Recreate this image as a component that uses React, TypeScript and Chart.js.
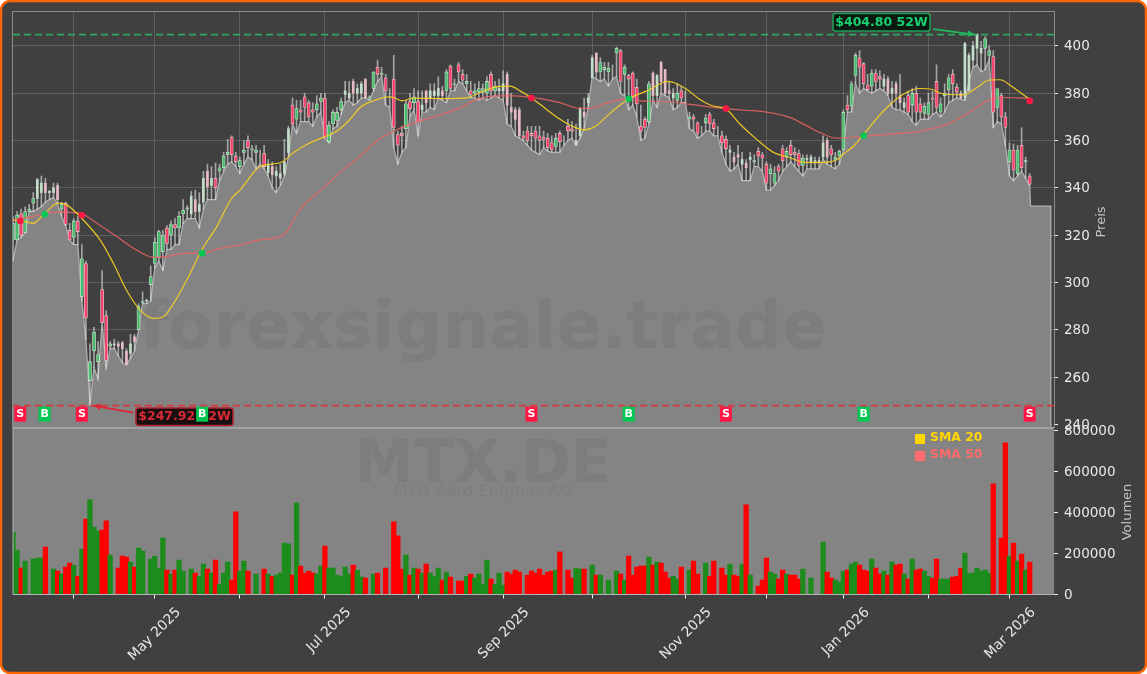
import React, { useEffect, useRef } from "react";
import { Chart, registerables } from "chart.js";

Chart.register(...registerables);

const opens = [318,318,329,321,330,333.5,335.5,338,342,338,338,341,331,333.5,322,319,326,294,308,258.5,271,266.5,297,286,273,273.5,274,274.5,271,270,277,280,291.5,292,299,308,310.5,313,323,320,324.5,323,329,331,329,335,330,334,347,341,344,347,348.5,354,361.5,353.5,349,355,360,356,355,355,354.5,346.5,349,345,344,346,355,375,369,373,378.5,376,373,373,376.5,378,359.5,367,368.5,373,379.5,378,385,380,380,386,378,382,391,388,386.5,381,386,362.5,363,365,376.5,376,376.5,373,381,378,379,379,381,381,391.5,383.5,392,388,384,381,380,380.5,380.5,380,388,381,381,381,388,374,373,373,362,364,363,364,362,361.5,361,359,357.5,363,360,366,365,358,362,372,376,386.5,397,389,390,389,390,397,398,388,387.5,388.5,382.5,366,369,368,388.5,379,393,390,381,378,377,381,378,369,370,367.5,364,367.5,371,367.5,365,362,360.5,355,353,354,350,350.5,352,351,355.5,354,350,346,342,349,356.5,353,358,355,354.5,349.5,352,351,351,351,353,360,356.5,352,353.5,356,375,374.5,387.5,395,392.5,383.5,383,388.5,387,383,386,380,384,379,374,379,375,380,375.5,371.5,371,378,385,372,379,381.5,388,382.5,380,378,381,394,399,397,399,396,395.5,374,379,370,351,356,346,358,351,345];
const closes = [325,328.5,320,330,331,335.5,343.5,342,338,338.5,340,335,333,324.5,318,326,321.5,310,285,266.5,279,269.5,283,267,274,274,273,272,265.5,274,275,290,292,292.5,302.5,317,321.5,320,316.5,324.5,323,328,330.5,331.5,336.5,330,333,344,340.5,344,340,348.5,353.5,355,354,351,351.5,356,357,356.5,356,355,349,350,345.5,347,346,351,365,367,373.5,372,374,370,372,375.5,378,361,366.5,372,372,376.5,381,380,380,382,384,378,378.5,389,388,388.5,381,381,365.5,358,362,375.5,373.5,378.5,368,375,376,381,381,382,379,389,382,384,389,385.5,385,379.5,381,382,382,385,381,383,382,384,375,372,369,362,361,360,362,361,360,360.5,357,356,361,359.5,360,364,364,360,373.5,370,378,395,389,393,391,390.5,390,399,385,391,386,378,375.5,364,365.5,384,379,387.5,385,380,380,380,380,378,378,370,369,363,364,369.5,367,365,365,359,356.5,356,351,353,352,348.5,353,351.5,353.5,352.5,342,348,346,347,351.5,355.5,354,354,349.5,352.5,352,353,351.5,351.5,359,353,354,353,355.5,372,373,384,396,391,384,381.5,388.5,385,386,386,380,382,380,376,376,372,380,372,372,374.5,376,377.5,374,375.5,380,386.5,384,380.5,378,401,396,400,405,399,403,398,372,382,370,365.5,356,347.5,356,348.5,351.5,341.5];
const highs = [328,330,331,332,333,338,344,345,344,339,342,342,334,334,325,327,328,316,309,274,281,275,305,288,275,276,275,275,272,278,278,291,296,293,307,319,322,322,324,326,327,330,335,332.5,338.5,339,338,347,350,349,350.5,350,355,360.5,362,355,353,360,362,358,358,356,358,352,351,349,350,360.5,366,378,377,377,380,377,376,379,380,380,368,373,374,378,385,385,386,384,385,386,379,389,394,391,388,382,396,364,366,377,380,382,381,381,381,384,384,387,383,390,392,386,393,390,388,385,384,385,384,387,389,385,386,389.5,389,380,374,374,364,366,366,366,366,364,363,362,363,364,362,369,368,367,374,378,380,396,397,395,393,393,392,399.5,398.5,392,388,389,386,375,370,385,389,388,393.5,390,385,382,384,383,381,372,371,368,366,371,372,369,366,364,362,358,355,358,355,352,355,354,357,355,351,350,349,350,358,357,360,357,356,354,354,354,353,353,362,361,358,355,356,373,379,385,397,398,393,388,390,390,389.5,388,387,385,385,388,378,381,382,383,378,376,380,381,392,378,384,388,390,384,381,401.5,397,402,404.8,402,404,400,398,380,380,372,359,358.5,358,365.4,353,346];
const lows = [309,318,319,321,330,330,331,332,334,335,336,333,328,324,318,316,316,292,276,247.92,264,259,283,263.5,272,272,269,266,265,268,271,280,291,291,292,306,309,305,314,314,316,316,325,327,327,327,323,331,335,335,335,343,347,350,351,349,346,350,353,352,348,350,348,345,340,338,341,345,353,367,363,368,368,368,366,370,372,361,359,365,366,371,376,377,375,376,378,378,377,381,385,387,375,374,357,350,355,357,370,373,362,372,372,374,373,378,377,376,381,381,385,384,381,378,378,377,378,377,378,379,378,377,367,366,362,361,360,358,356,355,354,357,355.5,355,355,355,358,360,361,358,361,365,374,387,386,385,386,383,386,387,380,379,373,375,370,360,361,367,377,374,380,379,378,373,374,376,376,365,364,361,362,364,364,362,362,355,350,347,348,350,343,343,343,349,349,347,339,339,341,343,347,349,351,349,347,345,348,348,348,348,352,350,349,348,350,356,372,372,384,380,382,381,380,381,382,381,379,374,373,373,372,371,368,366.5,369,369,369,371,372,370,372,376,377,378,377.5,377,385,391,392,389,390,394,365.5,368,367,358,345,343,345,347,344,341];
const volumes = [304000,216000,128000,163000,0,172000,177000,177000,231000,0,124000,114000,99000,133000,153000,143000,89000,221000,367000,460000,328000,309000,314000,358000,192000,0,128000,187000,182000,158000,133000,226000,211000,0,172000,187000,128000,275000,119000,99000,119000,167000,114000,0,124000,104000,89000,148000,124000,104000,167000,50000,104000,158000,70000,402000,114000,163000,114000,0,99000,0,124000,99000,89000,94000,104000,250000,246000,94000,446000,138000,104000,114000,104000,99000,138000,236000,128000,128000,94000,89000,133000,99000,143000,119000,85000,80000,0,99000,104000,0,128000,0,353000,285000,124000,192000,94000,128000,124000,104000,148000,104000,89000,128000,70000,109000,85000,0,65000,65000,89000,99000,80000,99000,50000,167000,75000,50000,104000,46000,109000,99000,119000,109000,0,94000,114000,104000,124000,94000,109000,114000,119000,207000,0,119000,80000,128000,124000,124000,0,143000,94000,94000,0,70000,0,114000,99000,70000,187000,94000,133000,138000,138000,182000,143000,158000,153000,109000,80000,89000,75000,133000,0,119000,163000,99000,0,153000,89000,163000,0,128000,94000,148000,94000,89000,148000,436000,94000,0,41000,70000,177000,109000,99000,75000,119000,99000,94000,94000,75000,124000,0,80000,0,0,255000,109000,80000,70000,60000,114000,119000,148000,158000,143000,119000,114000,172000,128000,99000,114000,94000,158000,143000,148000,99000,75000,172000,119000,124000,114000,89000,80000,172000,75000,75000,75000,85000,89000,128000,202000,104000,104000,128000,114000,119000,104000,538000,0,275000,738000,187000,250000,163000,197000,119000,158000];

const sma20X = [0,3,5,7.9,11.2,13.25,16.5,21.5,24.8,28,31.4,34.7,37.1,39.6,42.9,46.6,50.3,54,56,61,66,69.3,72.6,76.7,80,83.2,85.7,89,92.7,94,96,99,106.3,112,115.3,118.6,122.7,125.2,128,130.1,134.2,138.3,141.2,143.7,147.4,152,156.5,161.8,166.3,169.5,172.9,175.9,179.5,183.6,187.8,191.9,195,199.3,203.4,205.4,207.5,210,214.9,219.8,223.9,226.8,228.9,234.6,238,240.8,243.7,246.6,251];
const sma20Y = [326.4,325.7,325,329.3,333.5,332.8,327.9,318,308,296.8,288.3,284.8,285.5,291,301,313.7,323.6,335.6,338.9,349,350.6,354.9,358.4,361.5,364,369,374,376.8,378.5,378.2,376.8,377.9,377.7,378,380.3,382.4,383,381,378,375.3,370,365.9,364.5,365.9,371.5,377.7,381,385,381.7,377.5,374.6,373.5,366.9,360.5,354.9,352.7,350.9,350.7,351.9,354.8,357.6,362.6,372.5,379.6,382,381.7,380,379.3,382.4,385.5,385.7,382.8,377.4];
const sma50X = [0,5,7.9,11.2,16.5,20.7,25.6,30.5,34.7,38,42,46.6,51,56,61,66.7,70.9,76.6,81.6,85.7,89.8,94,99.7,104.7,110.5,114.6,119.6,123.7,130.2,135,140,142.5,146.6,152,154.8,161.4,167.2,175.9,181,186,191.9,196,199.3,203.4,210,215.8,224,229.8,234.7,240.5,243.7,251];
const sma50Y = [326.4,327.9,329.3,329.7,329.3,325,319.4,313.7,310.6,310.9,312.3,312.3,314.4,315.8,318,320,331,340,347.8,353.4,359.8,364,367.9,370.4,373.9,377.5,378.9,378.9,377.7,376,373.6,373.6,375.8,377.7,376.8,376.5,375.3,373.5,372.8,372,369.7,366.2,363.3,361,361.8,362.6,364,366.4,370.4,376.7,378.2,377.9];

const areaTailX = [251.2,256.2,256.2];
const areaTailY = [332.3,332.3,238.45];

const signalIdx = [1.8,7.8,17,46.7,128,152,176,210,251];
const signalPrice = [326,328.8,328.4,312.3,378,377.7,373.5,362,376.7];
const signalType = ["S","B","S","B","S","B","S","B","S"];

const monthTicks = [15,35,56,77,100,121,143,166,186,205,226,246];
const monthLabels = ["","May 2025","","Jul 2025","","Sep 2025","","Nov 2025","","Jan 2026","","Mar 2026"];

const high52 = 404.8;
const low52 = 247.92;
const priceTicks = [240,260,280,300,320,340,360,380,400];
const volumeTicks = [0,200000,400000,600000,800000];

const FONT = '"DejaVu Sans"';
const UP = "rgb(28,140,28)";
const DOWN = "rgb(255,0,0)";
const BG = "#404040";
const GREY = "#848484";
const SIG_RED = "#ff1744";
const SIG_GREEN = "#00c853";

const zipXY = (xs: number[], ys: number[]) => xs.map((x, i) => ({ x, y: ys[i] }));
const pick = <T,>(v: boolean, a: T, b: T) => (v ? a : b);

// The reference snaps its candle bodies to whole pixels: in a repeating band of
// bars the body collapses to two pixels and only its pale edge colour shows.
const isPaleBody = (i: number) => {
  const phase = (((i - 8.5 + 9.5) % 19) + 19) % 19;
  return Math.abs(phase - 9.5) <= 3.4;
};

function roundBox(ctx: CanvasRenderingContext2D, x: number, y: number, w: number, h: number, r: number) {
  ctx.beginPath();
  ctx.roundRect(x, y, w, h, r);
}

const framePlugin = {
  id: "frame",
  beforeDraw(chart: any) {
    const { ctx, width, height } = chart;
    ctx.save();
    roundBox(ctx, 1, 1, width - 2, height - 2, 9);
    ctx.fillStyle = BG;
    ctx.fill();
    ctx.lineWidth = 2.4;
    ctx.strokeStyle = "#ff6600";
    ctx.stroke();
    ctx.restore();
  },
  beforeDatasetsDraw(chart: any) {
    const { ctx, chartArea, scales } = chart;
    ctx.save();
    ctx.fillStyle = GREY;
    ctx.fillRect(chartArea.left, scales.yVol.top, chartArea.right - chartArea.left, scales.yVol.bottom - scales.yVol.top);
    ctx.restore();
  },
  afterDatasetDraw(chart: any, args: any) {
    if (args.index !== 0) return;
    const { ctx } = chart;
    ctx.save();
    ctx.textAlign = "center";
    ctx.textBaseline = "alphabetic";
    ctx.fillStyle = "rgba(60,60,60,0.09)";
    ctx.font = `bold 66px ${FONT}`;
    ctx.fillText("forexsignale.trade", 483, 348);
    ctx.font = `bold 59px ${FONT}`;
    ctx.fillText("MTX.DE", 483, 482);
    ctx.fillStyle = "rgba(60,60,60,0.08)";
    ctx.font = `16.6px ${FONT}`;
    ctx.fillText("MTU Aero Engines AG", 483, 496);
    ctx.restore();
  },
  afterDraw(chart: any) {
    const { ctx, chartArea, scales } = chart;
    const { x, yPrice, yVol } = scales;
    ctx.save();
    ctx.strokeStyle = "#8c8c8c";
    ctx.lineWidth = 1;
    ctx.strokeRect(chartArea.left - 0.5, chartArea.top - 0.5, chartArea.right - chartArea.left + 1, yPrice.bottom - chartArea.top);
    ctx.strokeStyle = "#a8a8a8";
    ctx.lineWidth = 1.6;
    ctx.beginPath();
    ctx.moveTo(chartArea.left, yPrice.bottom);
    ctx.lineTo(chartArea.right, yPrice.bottom);
    ctx.stroke();
    ctx.lineWidth = 1;
    ctx.strokeStyle = "#b4b4b4";
    ctx.beginPath();
    ctx.moveTo(chartArea.left, yVol.top);
    ctx.lineTo(chartArea.left, yVol.bottom);
    ctx.lineTo(chartArea.right, yVol.bottom);
    ctx.stroke();

    const arrow = (fx: number, fy: number, tx: number, ty: number, color: string) => {
      ctx.strokeStyle = color;
      ctx.fillStyle = color;
      ctx.lineWidth = 1.6;
      ctx.beginPath();
      ctx.moveTo(fx, fy);
      ctx.lineTo(tx, ty);
      ctx.stroke();
      const a = Math.atan2(ty - fy, tx - fx);
      ctx.beginPath();
      ctx.moveTo(tx, ty);
      ctx.lineTo(tx - 8 * Math.cos(a - 0.4), ty - 8 * Math.sin(a - 0.4));
      ctx.lineTo(tx - 8 * Math.cos(a + 0.4), ty - 8 * Math.sin(a + 0.4));
      ctx.closePath();
      ctx.fill();
    };
    const hy = yPrice.getPixelForValue(high52);
    const ly = yPrice.getPixelForValue(low52);
    ctx.font = `bold 12.5px ${FONT}`;
    ctx.textBaseline = "middle";
    ctx.textAlign = "center";

    arrow(933, hy - 5.5, x.getPixelForValue(237.5), hy, "#22b860");
    roundBox(ctx, 833, 13.5, 97, 17.5, 2.5);
    ctx.fillStyle = "#0a1a10";
    ctx.fill();
    ctx.strokeStyle = "#1f9d57";
    ctx.lineWidth = 1.6;
    ctx.stroke();
    ctx.fillStyle = "#18d070";
    ctx.fillText(`$${high52.toFixed(2)} 52W`, 881.5, 22.5);

    arrow(133, ly + 7, x.getPixelForValue(19.8), ly, "#e02636");
    roundBox(ctx, 136, 408, 97, 17.5, 2.5);
    ctx.fillStyle = "#1a0f10";
    ctx.fill();
    ctx.strokeStyle = "#b02430";
    ctx.lineWidth = 1.6;
    ctx.stroke();
    ctx.fillStyle = "#d82a34";
    ctx.fillText(`$${low52.toFixed(2)} 52W`, 184.5, 417);

    ctx.font = `bold 11px ${FONT}`;
    signalIdx.forEach((idx, i) => {
      const px = x.getPixelForValue(idx);
      const isBuy = signalType[i] === "B";
      ctx.fillStyle = isBuy ? SIG_GREEN : SIG_RED;
      ctx.fillRect(px - 6, 406.7, 12, 15);
      ctx.fillStyle = "#ffffff";
      ctx.fillText(signalType[i], px, 414.5);
    });

    ctx.font = `bold 12.4px ${FONT}`;
    ctx.textAlign = "left";
    ctx.fillStyle = "#ffd700";
    ctx.fillRect(915, 434, 10, 10);
    ctx.fillText("SMA 20", 930, 438);
    ctx.fillStyle = "#ff6b6b";
    ctx.fillRect(915, 451, 10, 10);
    ctx.fillText("SMA 50", 930, 455);

    ctx.font = `13px ${FONT}`;
    ctx.fillStyle = "#c4c4c4";
    ctx.textAlign = "center";
    const title = (t: string, tx: number, ty: number) => {
      ctx.save();
      ctx.translate(tx, ty);
      ctx.rotate(-Math.PI / 2);
      ctx.fillText(t, 0, 0);
      ctx.restore();
    };
    title("Preis", 1102, 222);
    title("Volumen", 1128, 512);
    ctx.restore();
  },
};

export default function App() {
  const ref = useRef<HTMLCanvasElement | null>(null);
  useEffect(() => {
    const idx = opens.map((_, i) => i);
    const isUp = idx.map((i) => closes[i] >= opens[i]);
    const solidIdx = idx.filter((i) => !isPaleBody(i));
    const paleIdx = idx.filter((i) => isPaleBody(i));
    const fitY = (s: any) => { s.width = 93; s.paddingTop = 0; s.paddingBottom = 0; };
    const chart = new Chart(ref.current as HTMLCanvasElement, {
      type: "bar",
      plugins: [framePlugin],
      data: {
        datasets: [
          {
            type: "line",
            data: [...zipXY(idx, lows), ...zipXY(areaTailX, areaTailY)],
            xAxisID: "x",
            yAxisID: "yPrice",
            borderColor: "#b0b0b0",
            borderWidth: 1.3,
            backgroundColor: GREY,
            fill: "start",
            pointRadius: 0,
            tension: 0,
            order: 20,
          },
          {
            type: "bar",
            data: idx.map((i) => ({ x: i, y: [lows[i], highs[i]] })),
            xAxisID: "x",
            yAxisID: "yPrice",
            backgroundColor: "rgba(226,226,226,0.62)",
            barThickness: 1,
            grouped: false,
            order: 19,
          },
          {
            type: "bar",
            data: solidIdx.map((i) => ({ x: i, y: [opens[i], closes[i]] })),
            xAxisID: "x",
            yAxisID: "yPrice",
            backgroundColor: solidIdx.map((i) => pick(isUp[i], "rgb(70,190,110)", "rgb(250,65,105)")),
            borderColor: solidIdx.map((i) => pick(isUp[i], "rgba(225,245,225,0.8)", "rgba(245,215,220,0.8)")),
            borderWidth: 0.8,
            borderSkipped: false,
            barThickness: 3.2,
            grouped: false,
            order: 18,
          },
          {
            type: "bar",
            data: paleIdx.map((i) => ({ x: i, y: [opens[i], closes[i]] })),
            xAxisID: "x",
            yAxisID: "yPrice",
            backgroundColor: paleIdx.map((i) => pick(isUp[i], "rgb(196,222,202)", "rgb(232,188,198)")),
            barThickness: 2,
            grouped: false,
            minBarLength: 1,
            order: 18,
          },
          {
            type: "bar",
            data: idx.map((i) => ({ x: i, y: volumes[i] })),
            xAxisID: "x",
            yAxisID: "yVol",
            backgroundColor: isUp.map((u) => pick(u, UP, DOWN)),
            barThickness: 4.6,
            grouped: false,
            order: 17,
          },
          {
            type: "line",
            data: zipXY(sma50X, sma50Y),
            xAxisID: "x",
            yAxisID: "yPrice",
            borderColor: "rgba(240,100,100,0.85)",
            borderWidth: 1.2,
            pointRadius: 0,
            cubicInterpolationMode: "monotone",
            order: 6,
          },
          {
            type: "line",
            data: zipXY(sma20X, sma20Y),
            xAxisID: "x",
            yAxisID: "yPrice",
            borderColor: "rgba(245,205,35,0.95)",
            borderWidth: 1.2,
            pointRadius: 0,
            cubicInterpolationMode: "monotone",
            order: 5,
          },
          {
            type: "line",
            data: [{ x: 0, y: high52 }, { x: 257, y: high52 }],
            xAxisID: "x",
            yAxisID: "yPrice",
            borderColor: "rgba(44,180,100,0.9)",
            borderWidth: 1.7,
            borderDash: [7, 4],
            pointRadius: 0,
            order: 4,
          },
          {
            type: "line",
            data: [{ x: 0, y: low52 }, { x: 257, y: low52 }],
            xAxisID: "x",
            yAxisID: "yPrice",
            borderColor: "rgba(222,50,55,0.9)",
            borderWidth: 1.7,
            borderDash: [7, 4],
            pointRadius: 0,
            order: 3,
          },
          {
            type: "scatter",
            data: zipXY(signalIdx, signalPrice),
            xAxisID: "x",
            yAxisID: "yPrice",
            showLine: false,
            pointRadius: 3.3,
            pointBorderWidth: 0,
            pointBackgroundColor: signalType.map((t) => pick(t === "B", SIG_GREEN, SIG_RED)),
            order: 2,
          },
        ],
      } as any,
      options: {
        responsive: false,
        animation: false,
        events: [],
        layout: { padding: { left: 13, top: 12, right: 0, bottom: 0 } },
        plugins: { legend: { display: false }, tooltip: { enabled: false } },
        scales: {
          x: {
            type: "linear",
            position: "bottom",
            min: 0,
            max: 257,
            offset: false,
            afterFit(s: any) { s.height = 79.5; s.paddingLeft = 0; s.paddingRight = 0; },
            afterBuildTicks(s: any) { s.ticks = monthTicks.map((value) => ({ value })); },
            grid: {
              offset: false,
              color: "rgba(255,255,255,0.16)",
              lineWidth: 1,
              tickLength: 4,
              tickColor: "#f0f0f0",
            },
            border: { display: false },
            ticks: {
              autoSkip: false,
              minRotation: 45,
              maxRotation: 45,
              color: "#e8e8e8",
              font: { family: FONT, size: 13.8 },
              padding: 6,
              labelOffset: 24,
              callback(v: any) { return monthLabels[monthTicks.indexOf(Number(v))] ?? ""; },
            },
          },
          yPrice: {
            type: "linear",
            position: "right",
            stack: "main",
            stackWeight: 416,
            min: 238.45,
            max: 414.35,
            afterFit: fitY,
            afterBuildTicks(s: any) { s.ticks = priceTicks.map((value) => ({ value })); },
            grid: {
              color: "rgba(255,255,255,0.16)",
              lineWidth: 1,
              tickLength: 4,
              tickColor: "#f0f0f0",
            },
            border: { display: false },
            ticks: {
              color: "#e8e8e8",
              font: { family: FONT, size: 13.5 },
              padding: 6,
              labelOffset: 1,
              callback(v: any) { return String(v); },
            },
          },
          yVol: {
            type: "linear",
            position: "right",
            stack: "main",
            stackWeight: 166.5,
            min: 0,
            max: 810000,
            afterFit: fitY,
            afterBuildTicks(s: any) { s.ticks = volumeTicks.map((value) => ({ value })); },
            grid: {
              drawOnChartArea: false,
              tickLength: 4,
              tickColor: "#f0f0f0",
            },
            border: { display: false },
            ticks: {
              color: "#e8e8e8",
              font: { family: FONT, size: 13.5 },
              padding: 6,
              labelOffset: 1,
              callback(v: any) { return String(v); },
            },
          },
        },
      } as any,
    });
    return () => chart.destroy();
  }, []);
  return (
    <canvas
      ref={ref}
      width={1147}
      height={674}
      style={{ position: "fixed", left: 0, top: 0, display: "block" }}
    />
  );
}
